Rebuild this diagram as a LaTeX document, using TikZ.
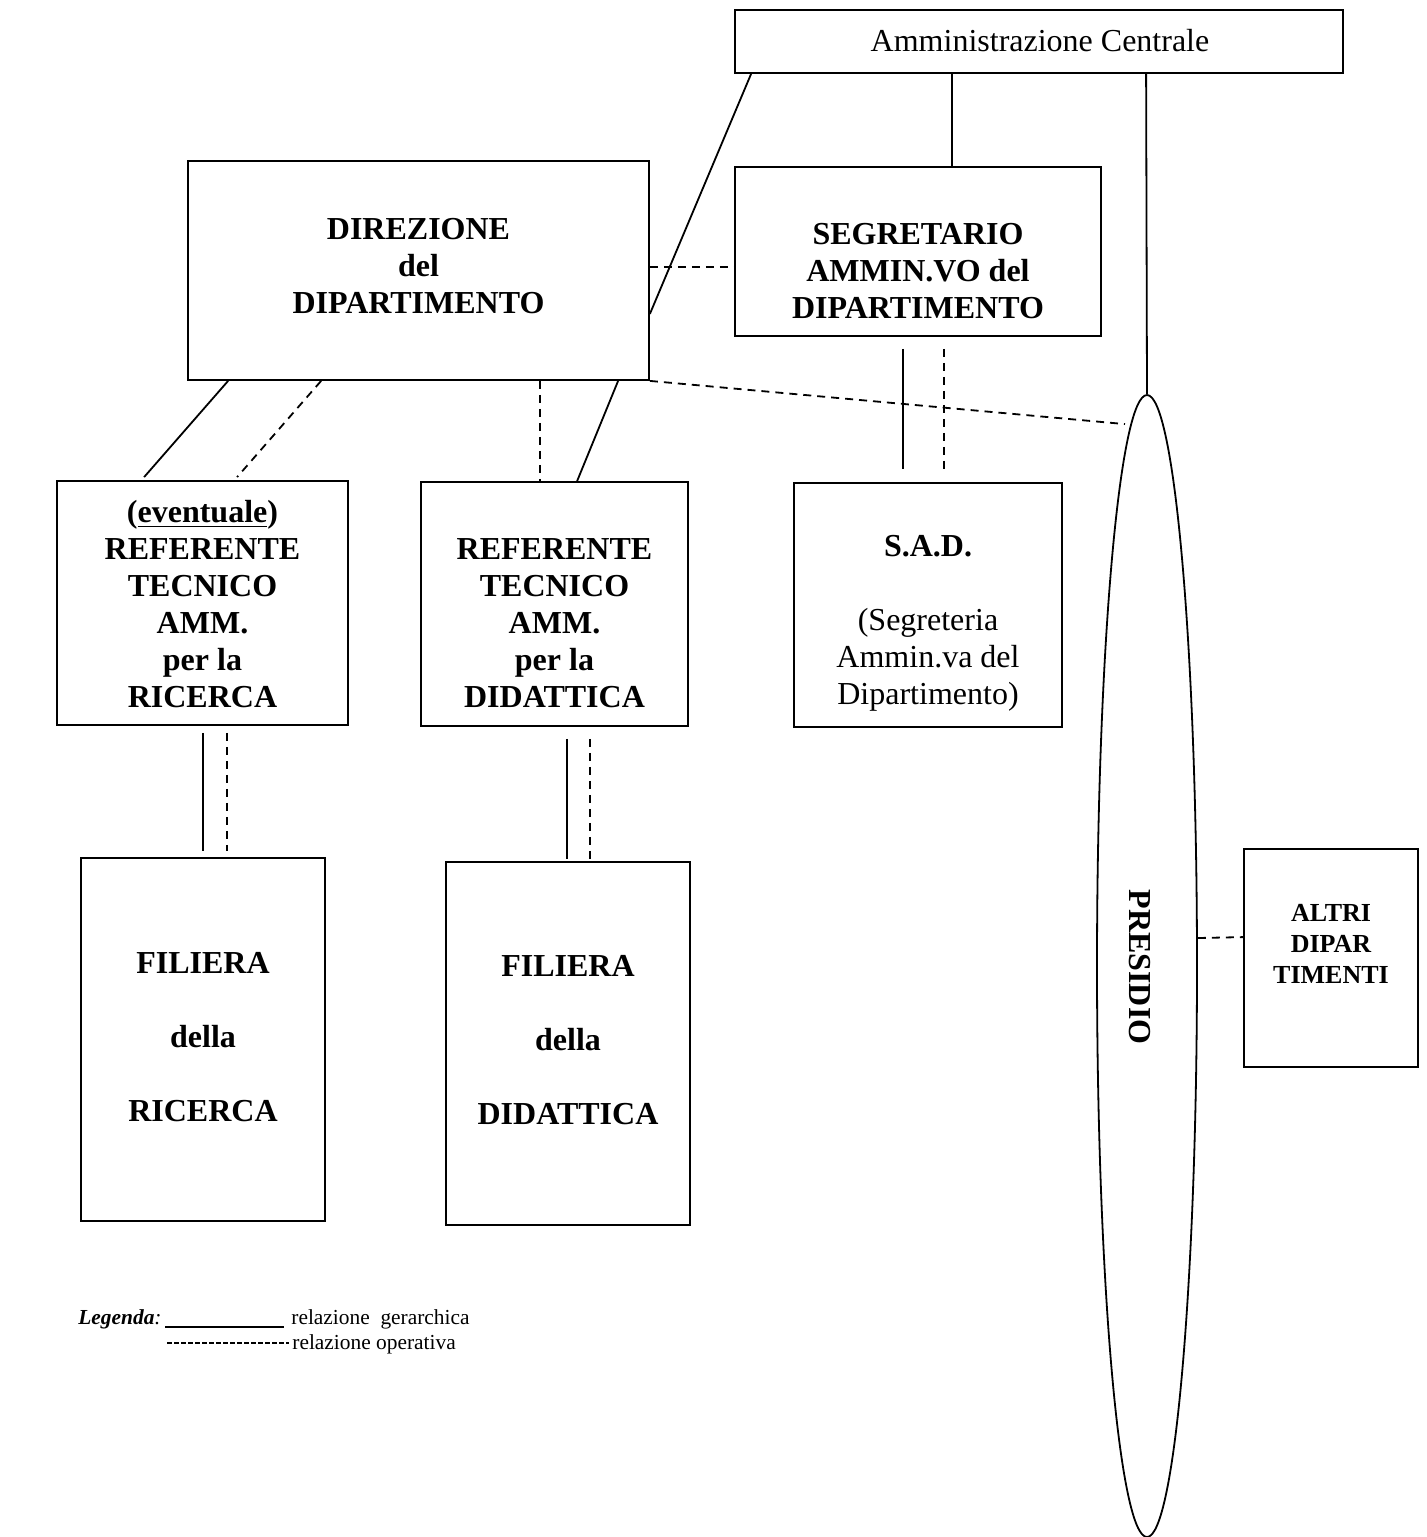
\documentclass[tikz,border=0pt]{standalone}
\usepackage{fontspec}
\setmainfont{Liberation Serif}
\usetikzlibrary{shapes.geometric,calc}
\tikzset{
  box/.style={draw, line width=0.9pt, inner sep=0pt},
  btxt/.style={align=center, font=\fontsize{16}{18.5}\selectfont\bfseries, inner sep=0pt},
  rtxt/.style={align=center, font=\fontsize{16}{18.5}\selectfont, inner sep=0pt},
  hier/.style={line width=0.9pt},
  oper/.style={line width=0.9pt, dash pattern=on 4pt off 3pt},
}
\begin{document}
\begin{tikzpicture}[x=0.5pt, y=-0.5pt]
\useasboundingbox (0,0) rectangle (1426,1537);
% boxes
\node[box, minimum width=304pt, minimum height=31.5pt] (amm) at (1039,41.5) {};
\node[rtxt] (ammT) at (1040,41) {Amministrazione Centrale};
\node[box, minimum width=230.5pt, minimum height=109.5pt] (dir) at (418.5,270.5) {};
\node[btxt] (dirT) at (418.5,266) {DIREZIONE\\del\\DIPARTIMENTO};
\node[box, minimum width=183pt, minimum height=84.5pt] (seg) at (918,251.5) {};
\node[btxt] (segT) at (918,271) {SEGRETARIO\\AMMIN.VO del\\DIPARTIMENTO};
\node[box, minimum width=145.5pt, minimum height=122pt] (refR) at (202.5,603) {};
\node[btxt] (refRT) at (202.5,604.5) {(\underline{eventuale})\\REFERENTE\\TECNICO\\AMM.\\per la\\RICERCA};
\node[box, minimum width=133.5pt, minimum height=122pt] (refD) at (554.5,604) {};
\node[btxt] (refDT) at (554.5,623.5) {REFERENTE\\TECNICO\\AMM.\\per la\\DIDATTICA};
\node[box, minimum width=134pt, minimum height=122pt] (sad) at (928,605) {};
\node[rtxt] (sadT) at (928,623.5) {\textbf{S.A.D.}\\[18.5pt](Segreteria\\Ammin.va del\\Dipartimento)};
\node[box, minimum width=122pt, minimum height=181.5pt] (filR) at (203,1039.5) {};
\node[btxt] (filRT) at (203,1037) {FILIERA\\[18.5pt]della\\[18.5pt]RICERCA};
\node[box, minimum width=122pt, minimum height=181.5pt] (filD) at (568,1043.5) {};
\node[btxt] (filDT) at (568,1040) {FILIERA\\[18.5pt]della\\[18.5pt]DIDATTICA};
\node[box, minimum width=87pt, minimum height=109pt] (altri) at (1331,958) {};
\node[align=center, inner sep=0pt, font=\fontsize{13}{15.5}\selectfont\bfseries] (altriT) at (1331,944) {ALTRI\\DIPAR\\TIMENTI};
\node[draw, ellipse, line width=0.9pt, inner sep=0pt, minimum width=50pt, minimum height=571pt] (pres) at (1147,966) {};
\node[btxt, rotate=-90] (presT) at (1140,967) {PRESIDIO};
% connectors
\draw[hier] ($(amm.south west)+(218,0)$) -- ($(seg.north west)+(218,0)$);
\draw[hier] ($(amm.south west)+(412,0)$) -- (pres.north);
\draw[hier] ($(amm.south west)+(17,0)$) -- ($(dir.south east)+(0,-67)$);
\draw[oper] ($(dir.north east)+(0,107)$) -- ($(seg.north west)+(0,101)$);
\draw[hier] ($(seg.south west)+(169,12)$) -- ($(sad.north west)+(110,-13)$);
\draw[oper] ($(seg.south west)+(210,12)$) -- ($(sad.north west)+(151,-13)$);
\draw[oper] (dir.south east) -- ($(pres.north)+(-22,30)$);
\draw[hier] ($(dir.south west)+(41,0)$) -- ($(refR.north west)+(88,-3)$);
\draw[oper] ($(dir.south west)+(134,0)$) -- ($(refR.north west)+(181,-3)$);
\draw[oper] ($(dir.south west)+(353,0)$) -- ($(refD.north west)+(120,0)$);
\draw[hier] ($(dir.south west)+(431,0)$) -- ($(refD.north west)+(157,0)$);
\draw[hier] ($(refR.south west)+(147,7)$) -- ($(filR.north west)+(123,-6)$);
\draw[oper] ($(refR.south west)+(171,7)$) -- ($(filR.north west)+(147,-6)$);
\draw[hier] ($(refD.south west)+(147,12)$) -- ($(filD.north west)+(122,-2)$);
\draw[oper] ($(refD.south west)+(170,12)$) -- ($(filD.north west)+(145,-2)$);
\draw[oper] ($(pres.east)+(0,-28)$) -- ($(altri.north west)+(0,89)$);
% legend
\node[anchor=base west, inner sep=0pt, font=\fontsize{10.7}{13}\selectfont] (legT) at (78,1324) {\textbf{\textit{Legenda}}\textit{:}};
\node[anchor=base west, inner sep=0pt, font=\fontsize{10.7}{13}\selectfont] (leg1) at (291,1324) {relazione\ \ gerarchica};
\node[anchor=base west, inner sep=0pt, font=\fontsize{10.7}{13}\selectfont] (leg2) at (292,1349) {relazione operativa};
\draw[line width=0.6pt] (165,1327) -- (284,1327);
\draw[line width=0.6pt, dash pattern=on 2.5pt off 1pt] (167,1343) -- (289,1343);
\end{tikzpicture}
\end{document}
